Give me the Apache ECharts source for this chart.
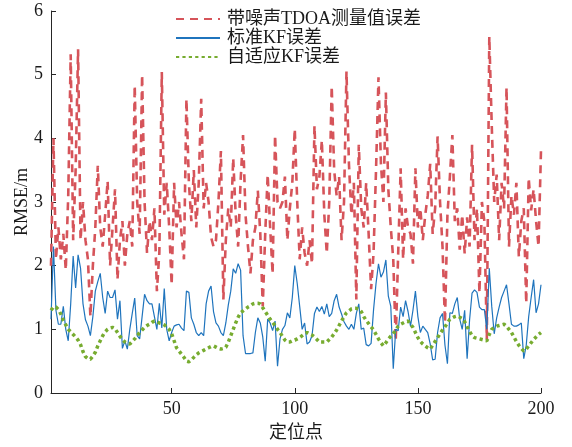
<!DOCTYPE html>
<html>
<head>
<meta charset="utf-8">
<script src="https://cdn.jsdelivr.net/npm/echarts@6/dist/echarts.min.js"></script>
<style>
  html, body { margin: 0; padding: 0; background: #fff; }
  #main { width: 572px; height: 447px; }
</style>
</head>
<body>
<div id="main"></div>
<script>
// 带噪声TDOA测量值误差
const tdoaErr = [
  2.0, 4.0, 2.1, 2.6, 2.1, 2.5, 1.93, 3.1, 5.32, 2.4,
  3.5, 5.4, 2.4, 3.0, 2.4, 2.1, 1.2, 2.0, 2.6, 3.57,
  2.6, 2.3, 2.8, 3.33, 2.0, 2.6, 3.2, 1.78, 2.4, 2.7,
  2.0, 2.5, 2.7, 2.3, 4.83, 3.0, 2.5, 5.0, 3.0, 2.2,
  2.7, 2.4, 2.9, 1.6, 2.2, 5.04, 2.8, 3.3, 2.6, 1.7,
  3.3, 2.6, 3.0, 2.5, 2.1, 4.62, 3.3, 2.7, 3.5, 2.6,
  3.3, 4.62, 2.9, 3.3, 3.0, 2.45, 2.3, 2.4, 3.0, 3.8,
  1.47, 2.4, 2.9, 2.6, 3.69, 2.8, 2.3, 3.33, 4.05, 2.8,
  2.3, 1.88, 2.4, 2.6, 3.18, 2.5, 1.36, 2.5, 3.43, 2.6,
  1.87, 4.05, 3.0, 2.9, 3.0, 3.4, 2.4, 2.9, 3.3, 4.15,
  3.0, 2.1, 2.6, 2.2, 2.0, 2.4, 2.03, 4.2, 3.2, 3.4,
  3.97, 2.8, 2.19, 3.0, 4.82, 3.5, 3.1, 3.4, 2.4, 3.0,
  5.05, 3.6, 2.8, 3.3, 1.47, 3.9, 2.9, 2.6, 3.3, 2.5,
  1.63, 2.2, 3.5, 4.96, 3.6, 3.0, 4.72, 3.2, 2.6, 2.1,
  0.82, 2.2, 3.53, 2.1, 2.9, 2.6, 2.5, 2.03, 3.53, 2.6,
  2.9, 2.4, 2.8, 3.1, 3.6, 2.5, 2.9, 4.03, 3.0, 2.3,
  1.1, 2.8, 3.4, 4.05, 2.7, 2.9, 2.25, 2.8, 2.19, 2.76,
  2.3, 3.9, 2.4, 2.9, 1.57, 3.0, 2.7, 0.85, 5.6, 4.2,
  3.0, 3.43, 2.4, 3.3, 2.9, 4.8, 2.3, 3.1, 2.8, 3.3,
  2.14, 2.7, 2.9, 1.41, 3.38, 2.87, 3.2, 2.7, 2.3, 3.82
];

// 标准KF误差
const kfErr = [
  1.16, 2.3, 1.3, 1.08, 1.08, 1.36, 1.0, 0.82, 1.4, 2.15,
  1.65, 2.17, 1.96, 1.4, 1.15, 1.05, 0.9, 1.2, 1.6, 1.75,
  1.88, 1.5, 1.25, 1.6, 1.5, 1.5, 1.62, 1.16, 1.45, 0.7,
  0.82, 0.69, 1.0, 1.25, 1.49, 0.9, 0.85, 1.2, 1.55, 1.45,
  1.4, 1.4, 1.2, 1.0, 1.41, 1.02, 1.64, 1.0, 0.82, 0.95,
  1.05, 1.07, 1.08, 1.02, 0.98, 1.6, 1.58, 1.18, 1.08, 0.95,
  0.9, 0.95, 0.9, 1.4, 1.6, 1.68, 1.28, 1.1, 1.05, 0.95,
  0.9, 1.1, 1.38, 1.6, 1.95, 1.88, 2.03, 1.93, 0.9, 0.62,
  0.62, 0.62, 0.63, 0.95, 1.18, 1.1, 0.88, 0.5, 1.16, 1.1,
  0.98, 1.13, 0.42, 0.85, 1.0, 1.06, 1.26, 1.18, 1.5, 2.0,
  1.72, 1.36, 1.0, 1.1, 0.77, 0.8, 0.9, 1.25, 1.35, 1.28,
  1.36, 1.24, 1.4, 1.2, 1.25, 1.45, 1.55, 1.35, 1.24, 1.12,
  1.05, 1.0, 1.08, 1.0, 1.25, 1.4, 1.0, 1.02, 0.76, 0.74,
  0.78, 1.31, 1.72, 2.03, 1.82, 1.9, 2.09, 1.52, 1.36, 0.38,
  1.0, 0.98, 1.35, 1.2, 1.45, 1.28, 1.05, 1.3, 1.6, 1.2,
  0.95, 1.05, 1.0, 0.95, 0.77, 0.52, 0.53, 0.95, 1.18, 1.25,
  0.75, 0.46, 1.26, 1.25, 1.4, 1.5, 1.16, 1.0, 1.3, 0.54,
  1.15, 1.57, 1.62, 1.58, 1.35, 1.31, 1.31, 1.0, 1.96, 1.36,
  0.93, 1.18, 1.35, 1.5, 1.6, 1.7, 1.4, 1.08, 1.05, 1.05,
  1.07, 1.1, 0.54, 0.75, 1.2, 1.5, 1.78, 1.26, 1.4, 1.7
];

// 自适应KF误差
const akfErr = [
  1.30, 1.35, 1.35, 1.31, 1.24, 1.14, 1.07, 1.0, 0.96, 0.92,
  0.88, 0.83, 0.76, 0.65, 0.57, 0.54, 0.53, 0.58, 0.64, 0.74,
  0.82, 0.9, 0.96, 1.0, 1.02, 1.03, 1.01, 0.95, 0.89, 0.84,
  0.8, 0.78, 0.77, 0.81, 0.85, 0.9, 0.95, 0.99, 1.03, 1.06,
  1.08, 1.11, 1.13, 1.12, 1.1, 1.09, 1.07, 1.04, 1.0, 0.93,
  0.82, 0.71, 0.66, 0.61, 0.56, 0.5, 0.49, 0.52, 0.56, 0.6,
  0.63, 0.65, 0.67, 0.69, 0.71, 0.73, 0.74, 0.72, 0.7, 0.69,
  0.7, 0.72, 0.8, 0.9, 1.0, 1.1, 1.19, 1.26, 1.29, 1.32,
  1.35, 1.37, 1.4, 1.41, 1.41, 1.4, 1.34, 1.28, 1.22, 1.16,
  1.11, 1.06, 1.0, 0.95, 0.89, 0.83, 0.8, 0.8, 0.82, 0.83,
  0.85, 0.87, 0.9, 0.93, 0.95, 0.93, 0.91, 0.88, 0.84, 0.8,
  0.8, 0.8, 0.8, 0.84, 0.88, 0.93, 0.99, 1.06, 1.13, 1.2,
  1.26, 1.29, 1.32, 1.33, 1.33, 1.32, 1.28, 1.2, 1.14, 1.09,
  1.04, 0.99, 0.92, 0.85, 0.79, 0.74, 0.79, 0.85, 0.89, 0.93,
  0.99, 1.05, 1.08, 1.1, 1.12, 1.13, 1.08, 1.03, 0.95, 0.87,
  0.81, 0.77, 0.74, 0.71, 0.69, 0.75, 0.81, 0.87, 0.93, 0.99,
  1.04, 1.1, 1.16, 1.18, 1.2, 1.21, 1.19, 1.17, 1.12, 1.04,
  0.97, 0.9, 0.87, 0.86, 0.85, 0.84, 0.83, 0.82, 0.92, 1.0,
  1.03, 1.05, 1.06, 1.07, 1.08, 1.05, 1.0, 0.95, 0.88, 0.81,
  0.75, 0.7, 0.66, 0.69, 0.74, 0.79, 0.84, 0.88, 0.92, 0.95
];

const seriesNames = ['带噪声TDOA测量值误差', '标准KF误差', '自适应KF误差'];
const xTicks = [50, 100, 150, 200];

const fontFam = "'Liberation Serif', 'Noto Sans CJK SC', serif";
const axisColor = '#262626';

function pairs(arr) {
  return arr.map((v, i) => [i + 1, v]);
}

let chart = echarts.init(document.getElementById('main'), null, { renderer: 'canvas' });

let option = {
  animation: false,
  backgroundColor: '#fff',
  textStyle: { fontFamily: fontFam },
  grid: { left: 51, right: 31, top: 11, bottom: 49 },
  legend: {
    orient: 'vertical',
    left: 170,
    top: 5,
    itemWidth: 44,
    itemHeight: 14,
    itemGap: 1,
    itemStyle: { opacity: 0 },
    textStyle: { fontFamily: fontFam, fontSize: 18, color: '#1a1a1a', padding: [0, 0, 0, 2] },
    data: seriesNames
  },
  xAxis: {
    type: 'value',
    min: 1,
    max: 200,
    name: '定位点',
    nameLocation: 'middle',
    nameGap: 31,
    nameMoveOverlap: false,
    nameTextStyle: { fontFamily: fontFam, fontSize: 18, color: '#1a1a1a' },
    axisLine: { lineStyle: { color: axisColor, width: 1 } },
    axisTick: { inside: true, length: 5, customValues: xTicks, lineStyle: { color: axisColor } },
    axisLabel: { customValues: xTicks, fontSize: 18, color: '#1a1a1a', fontFamily: fontFam, margin: 7 },
    splitLine: { show: false }
  },
  yAxis: {
    type: 'value',
    min: 0,
    max: 6,
    interval: 1,
    name: 'RMSE/m',
    nameLocation: 'middle',
    nameGap: 20,
    nameMoveOverlap: false,
    nameTextStyle: { fontFamily: fontFam, fontSize: 18, color: '#1a1a1a' },
    axisLine: { show: true, lineStyle: { color: axisColor, width: 1 } },
    axisTick: { show: true, inside: true, length: 5, lineStyle: { color: axisColor } },
    axisLabel: { fontSize: 18, color: '#1a1a1a', fontFamily: fontFam, margin: 8 },
    splitLine: { show: false }
  },
  series: [
    {
      name: seriesNames[0],
      type: 'line',
      data: pairs(tdoaErr),
      symbol: 'none',
      z: 1,
      lineStyle: { color: '#D6545A', width: 2.6, type: [8, 6], cap: 'butt' },
      itemStyle: { color: '#D6545A' }
    },
    {
      name: seriesNames[1],
      type: 'line',
      data: pairs(kfErr),
      symbol: 'none',
      z: 2,
      lineStyle: { color: '#1F74BD', width: 1.2 },
      itemStyle: { color: '#1F74BD' }
    },
    {
      name: seriesNames[2],
      type: 'line',
      data: pairs(akfErr),
      symbol: 'none',
      z: 3,
      lineStyle: { color: '#77AC30', width: 3.5, type: [3.2, 3.2], cap: 'butt' },
      itemStyle: { color: '#77AC30' }
    }
  ]
};

chart.setOption(option);
</script>
</body>
</html>
